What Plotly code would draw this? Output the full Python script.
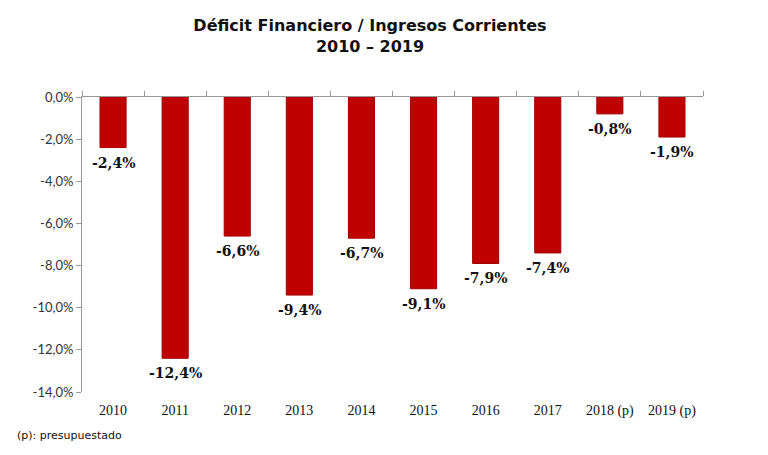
import plotly.graph_objects as go

categories = ["2010", "2011", "2012", "2013", "2014", "2015", "2016", "2017", "2018 (p)", "2019 (p)"]
values = [-2.4, -12.4, -6.6, -9.4, -6.7, -9.1, -7.9, -7.4, -0.8, -1.9]
labels = [f"{v:.1f}%".replace(".", ",") for v in values]
y_ticks = [0, -2, -4, -6, -8, -10, -12, -14]
y_ticktext = [f"{v:.1f}%".replace(".", ",") for v in y_ticks]

W, H = 760, 447  # page body has an 8px default margin

fig = go.Figure()
fig.add_trace(go.Bar(
    x=categories, y=values,
    marker=dict(color="#C00000", line=dict(color="#A00000", width=1)),
    width=0.42, hoverinfo="x+y",
))
fig.add_trace(go.Scatter(x=[0], y=[0], xaxis="x2", mode="markers",
                         marker=dict(opacity=0), hoverinfo="skip"))

# category axis: annotation x given as category index
for i, (v, t) in enumerate(zip(values, labels)):
    fig.add_annotation(
        x=i, y=v, xref="x", yref="y", text=f"<b>{t}</b>",
        showarrow=False, yanchor="top", yshift=-5,
        font=dict(family="DejaVu Serif", size=14, color="#111111"),
    )

fig.update_layout(
    width=W, height=H,
    margin=dict(l=74, r=65, t=89, b=63),
    paper_bgcolor="white", plot_bgcolor="white",
    showlegend=False,
    title=dict(
        text="<b>Déficit Financiero / Ingresos Corrientes<br>2010 – 2019</b>",
        x=362 / W, xanchor="center", xref="container",
        y=1 - 23 / H, yanchor="middle", yref="container",
        font=dict(family="DejaVu Sans", size=16, color="#111111"),
    ),
    xaxis=dict(
        type="category", range=[-0.5, 9.5],
        showline=False, ticks="", showgrid=False,
        ticklabelstandoff=8,
        tickfont=dict(family="Liberation Serif", size=14, color="#111111"),
    ),
    xaxis2=dict(
        overlaying="x", side="top", anchor="y", range=[-0.5, 9.5],
        tickvals=[i - 0.5 for i in range(11)], showticklabels=False,
        showline=True, linecolor="#999999", linewidth=1,
        ticks="outside", ticklen=5, tickcolor="#999999", showgrid=False,
        zeroline=False,
    ),
    yaxis=dict(
        range=[-14, 0], tickvals=y_ticks, ticktext=y_ticktext,
        showline=True, linecolor="#999999", linewidth=1,
        ticks="outside", ticklen=5, tickcolor="#999999",
        showgrid=False, zeroline=False,
        tickfont=dict(family="Lato", size=13, color="#333333"),
    ),
)

fig.add_annotation(
    text="(p): presupuestado", xref="paper", yref="paper",
    x=(7 - 74) / (W - 74 - 65), y=-(427 - 384) / (H - 89 - 63),
    xanchor="left", yanchor="middle", showarrow=False,
    font=dict(family="DejaVu Sans", size=11, color="#111111"),
)

fig.write_html("out.html")
